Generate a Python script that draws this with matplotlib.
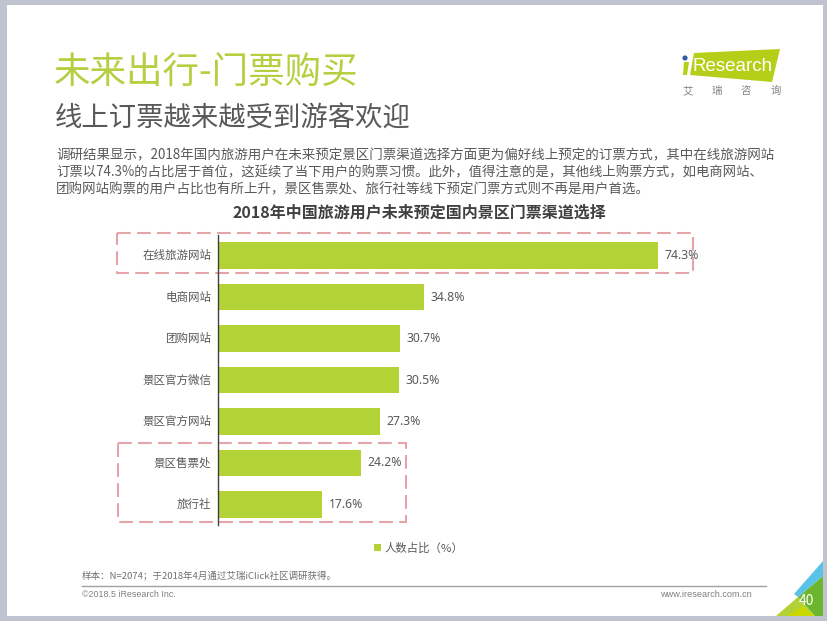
import matplotlib
matplotlib.use('Agg')
import matplotlib.pyplot as plt
from matplotlib.patches import Rectangle, Polygon, Circle
from matplotlib.transforms import ScaledTranslation

plt.rcParams['font.family'] = ['Noto Sans CJK SC', 'DejaVu Sans']

categories = ['在线旅游网站', '电商网站', '团购网站', '景区官方微信', '景区官方网站', '景区售票处', '旅行社']
values = [74.3, 34.8, 30.7, 30.5, 27.3, 24.2, 17.6]
series_name = '人数占比（%）'
title = '未来出行-门票购买'
subtitle = '线上订票越来越受到游客欢迎'
body = ['调研结果显示，2018年国内旅游用户在未来预定景区门票渠道选择方面更为偏好线上预定的订票方式，其中在线旅游网站',
        '订票以74.3%的占比居于首位，这延续了当下用户的购票习惯。此外，值得注意的是，其他线上购票方式，如电商网站、',
        '团购网站购票的用户占比也有所上升，景区售票处、旅行社等线下预定门票方式则不再是用户首选。']
body_sizes = [9.73, 9.62, 9.7]
chart_title = '2018年中国旅游用户未来预定国内景区门票渠道选择'
note = '样本：N=2074；于2018年4月通过艾瑞iClick社区调研获得。'
copyright_text = '©2018.5 iResearch Inc.'
website = 'www.iresearch.com.cn'
page = '40'

W, H = 828, 621
GREEN = '#B2D235'
GRAY = '#595959'
PINK = '#E5A5A8'
fig = plt.figure(figsize=(W/100, H/100), dpi=100, facecolor='#BFC3CE')

bg = fig.add_axes([0, 0, 1, 1])
bg.set_xlim(0, W); bg.set_ylim(H, 0); bg.axis('off')
bg.add_patch(Rectangle((7, 5), 816, 611, fc='white', ec='none'))

bg.text(54, 73, title, fontsize=26.3, color='#B4D040', va='center', ha='left', fontweight='light')
bg.text(55, 118, subtitle, fontsize=19.7, color=GRAY, va='center', ha='left', fontweight='light')
for i, line in enumerate(body):
    bg.text(56, 155.5 + i*17, line, fontsize=body_sizes[i], color=GRAY, va='center', ha='left')
bg.text(419, 212.5, chart_title, fontsize=11.5, color='#404040', va='center', ha='center', fontweight='bold')

# logo
bg.add_patch(Polygon([(694, 53), (780, 49), (772, 82), (690, 75)], fc='#B5CF18', ec='none'))
bg.add_patch(Polygon([(684, 62), (689, 62), (687, 75), (683, 75)], fc='#B5CF18', ec='none'))
bg.add_patch(Circle((685, 58), 2.6, fc='#2F5FA5', ec='none'))
bg.text(693, 66.5, 'Research', fontsize=13.5, color='white', va='center', ha='left', family='Liberation Sans')
for x, ch in zip([688, 717, 746, 776], '艾瑞咨询'):
    bg.text(x, 91, ch, fontsize=7.5, color='#808080', va='center', ha='center')

# bars
x0, y_top, y_bot = 218, 234.8, 525.2
ax = fig.add_axes([x0/W, 1 - y_bot/H, (W - x0)/W, (y_bot - y_top)/H])
ax.patch.set_alpha(0)
pos = list(range(len(categories)))
ax.barh(pos, values, height=0.635, color=GREEN)
ax.set_ylim(len(categories) - 0.5, -0.5)
ax.set_xlim(0, (W - x0)/5.92)
ax.set_yticks(pos, categories, fontsize=8.3, color=GRAY)
ax.tick_params(axis='y', length=0, pad=5)
shift = ScaledTranslation(0, 1.5/100, fig.dpi_scale_trans)
for lab in ax.get_yticklabels():
    lab.set_transform(lab.get_transform() + shift)
ax.set_xticks([])
for s in ['top', 'right', 'bottom']:
    ax.spines[s].set_visible(False)
ax.spines['left'].set_color('#404040')
ax.spines['left'].set_linewidth(1)
for i, v in enumerate(values):
    ax.text(v + 1.1, i, f'{v}%', fontsize=8.8, color=GRAY, va='center', ha='left', family='Noto Sans')

# highlight boxes
for x, y, w, h in [(117, 232.5, 576, 40), (118, 442.5, 288, 79.5)]:
    bg.add_patch(Rectangle((x, y), w, h, fill=False, ec=PINK, lw=1.5, ls=(0, (6.6, 3)), zorder=5))

# legend
bg.add_patch(Rectangle((374, 544), 7, 7, fc=GREEN, ec='none'))
bg.text(385, 548, series_name, fontsize=8.2, color=GRAY, va='center', ha='left')

# footer
bg.text(82, 575.5, note, fontsize=6.8, color='#707070', va='center', ha='left')
bg.plot([82, 766], [585.5, 585.5], color='#A0A0A0', lw=1)
bg.text(82, 594.5, copyright_text, fontsize=6.4, color='#808080', va='center', ha='left', family='Liberation Sans')
bg.text(752, 594.5, website, fontsize=6.6, color='#808080', va='center', ha='right', family='Liberation Sans')

# corner
bg.add_patch(Polygon([(776, 616), (798, 597), (815, 616)], fc='#B2D235', ec='none'))
bg.add_patch(Polygon([(798, 597), (823, 576), (823, 616), (815, 616)], fc='#6DB52D', ec='none'))
bg.add_patch(Polygon([(787, 616), (803, 606), (815, 616)], fc='#C9D800', ec='none'))
bg.add_patch(Polygon([(794, 594), (823, 561), (823, 576), (798, 597)], fc='#5BC2E7', ec='none'))
bg.text(806, 601, page, fontsize=10, color='white', va='center', ha='center', zorder=6)

fig.savefig('out.png', dpi=100, facecolor=fig.get_facecolor())
